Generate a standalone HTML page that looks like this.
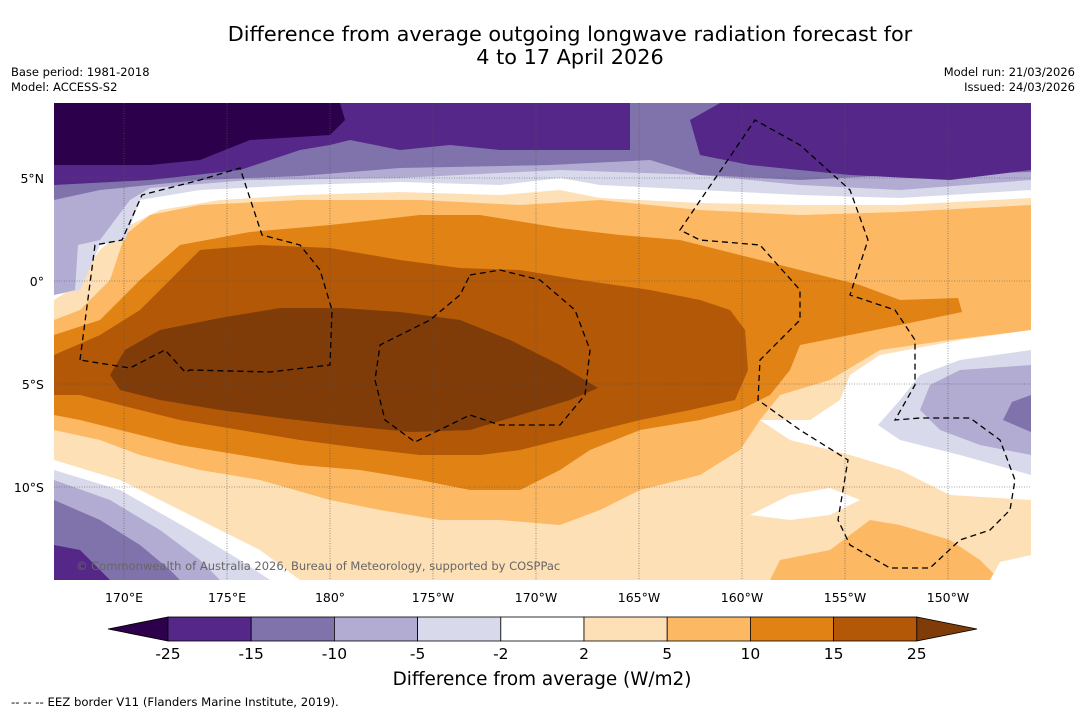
<!DOCTYPE html>
<html><head><meta charset="utf-8">
<style>
body{margin:0;background:#fff;width:1085px;height:713px;overflow:hidden;font-family:"DejaVu Sans",sans-serif;}
svg text{font-family:"DejaVu Sans",sans-serif;}
</style></head>
<body>
<svg id="chart" width="1085" height="713" xmlns="http://www.w3.org/2000/svg">
<text x="570" y="41" font-size="20.8" text-anchor="middle">Difference from average outgoing longwave radiation forecast for</text>
<text x="570" y="64" font-size="20.8" text-anchor="middle">4 to 17 April 2026</text>
<text x="11" y="76" font-size="11.5">Base period: 1981-2018</text>
<text x="11" y="91" font-size="11.5">Model: ACCESS-S2</text>
<text x="1075" y="76" font-size="11.5" text-anchor="end">Model run: 21/03/2026</text>
<text x="1075" y="91" font-size="11.5" text-anchor="end">Issued: 24/03/2026</text>
<defs><clipPath id="mapclip"><rect x="54" y="103" width="977" height="477"/></clipPath></defs>
<g id="map" clip-path="url(#mapclip)">
<rect x="54" y="103" width="977" height="477" fill="#fee0b6"/>
<polygon fill="#fdb863" points="54,320 80,310 110,280 125,235 150,215 200,205 300,200 420,200 520,205 600,200 700,210 800,215 900,212 1031,205 1031,330 950,340 880,350 830,380 780,395 760,420 740,450 700,475 640,490 600,510 560,525 500,520 440,520 380,510 330,500 260,480 200,470 140,455 100,440 54,430"/>
<polygon fill="#e08214" points="54,335 100,320 140,280 180,245 250,232 330,225 420,215 480,215 560,228 620,235 680,240 740,255 800,270 860,285 900,300 958,298 962,312 900,325 850,335 800,345 790,370 770,395 740,410 700,420 640,430 590,450 560,470 520,490 470,490 420,480 360,470 300,465 240,455 180,445 120,430 80,420 54,415"/>
<polygon fill="#b35806" points="54,355 100,335 140,310 180,270 200,250 260,245 330,248 400,260 460,268 520,270 580,280 650,290 700,300 730,310 745,330 748,370 735,400 690,410 640,420 600,430 560,440 520,450 480,455 420,455 360,448 300,440 240,430 180,420 120,405 80,395 54,395"/>
<polygon fill="#7f3b08" points="110,375 125,350 160,330 220,318 280,308 340,308 400,312 460,320 510,340 560,365 598,388 570,400 520,415 470,430 410,432 340,425 280,418 220,410 160,400 120,390"/>
<polygon fill="#fdb863" points="770,580 780,560 830,550 870,520 900,525 950,540 980,560 1000,580"/>
<polygon fill="#ffffff" points="990,580 1000,562 1031,555 1031,580"/>
<polygon fill="#ffffff" points="750,515 790,495 830,488 860,500 830,515 790,520"/>
<polygon fill="#ffffff" points="54,103 1031,103 1031,198 900,205 800,205 700,203 600,198 560,190 500,195 400,192 300,195 220,200 160,210 130,225 100,250 70,290 54,300"/>
<polygon fill="#d8daeb" points="54,103 1031,103 1031,190 900,198 800,195 700,190 600,185 560,178 500,185 400,182 300,185 200,190 140,200 125,240 100,245 80,290 54,295"/>
<polygon fill="#b2abd2" points="54,103 1031,103 1031,180 900,190 800,185 700,175 560,170 400,178 250,180 150,188 130,200 100,240 78,245 75,290 54,295"/>
<polygon fill="#8073ac" points="54,103 1031,103 1031,172 900,175 800,180 700,175 650,160 550,165 400,168 300,176 200,180 100,190 54,200"/>
<polygon fill="#542788" points="54,103 630,103 630,150 500,150 450,145 400,150 350,140 330,145 300,150 270,160 240,170 150,180 54,185"/>
<polygon fill="#542788" points="720,103 1031,103 1031,170 950,180 850,175 750,165 700,155 690,120"/>
<polygon fill="#2d004b" points="54,103 340,103 345,120 330,135 250,140 200,160 150,165 54,165"/>
<polygon fill="#ffffff" points="54,460 120,480 200,520 260,550 300,580 54,580"/>
<polygon fill="#d8daeb" points="54,470 120,490 190,530 240,560 270,580 54,580"/>
<polygon fill="#b2abd2" points="54,480 110,500 160,530 200,560 220,580 54,580"/>
<polygon fill="#8073ac" points="54,500 100,520 140,545 170,570 180,580 54,580"/>
<polygon fill="#542788" points="54,545 80,550 100,570 110,580 54,580"/>
<polygon fill="#ffffff" points="1031,330 960,340 880,355 850,375 840,400 810,420 760,420 790,440 850,455 900,470 950,495 1031,500"/>
<polygon fill="#d8daeb" points="1031,350 960,360 920,375 900,400 878,425 900,440 960,455 1031,475"/>
<polygon fill="#b2abd2" points="1031,365 960,370 930,385 920,410 940,430 980,445 1031,455"/>
<polygon fill="#8073ac" points="1031,395 1012,402 1003,420 1031,432"/>
<g id="grid" stroke="#555" stroke-width="0.6" stroke-dasharray="1,1.5"></g>
<g fill="none" stroke="#000" stroke-width="1.3" stroke-dasharray="6,4">
<path d="M80,360 L95,245 L122,240 L142,195 L200,180 L240,168 L262,235 L300,245 L320,270 L332,310 L330,365 L270,372 L190,370 L185,372 L165,350 L130,368 Z"/>
<path d="M470,275 L500,270 L540,280 L575,310 L590,350 L585,395 L560,425 L500,425 L470,415 L415,442 L385,420 L375,380 L380,345 L430,320 L460,295 Z"/>
<path d="M680,230 L755,120 L800,145 L850,190 L868,240 L850,295 L895,310 L915,340 L915,385 L895,420 L920,418 L970,418 L1000,440 L1015,480 L1010,510 L990,530 L960,540 L930,568 L890,568 L850,545 L838,520 L848,460 L800,430 L758,400 L760,360 L800,320 L800,290 L760,245 L700,240 Z"/>
</g>
<text x="76" y="570" font-size="11.5" fill="#666">© Commonwealth of Australia 2026, Bureau of Meteorology, supported by COSPPac</text>
</g>
<g id="axes"></g>
<g id="cbar"></g>
<text x="542" y="685" font-size="18.4" text-anchor="middle">Difference from average (W/m2)</text>
<text x="11" y="706" font-size="11.7">--  --  -- EEZ border V11 (Flanders Marine Institute, 2019).</text>
</svg>
<script>
const lonLabels=["170°E","175°E","180°","175°W","170°W","165°W","160°W","155°W","150°W"];
const lonValues=[170,175,180,185,190,195,200,205,210];
const latLabels=["5°N","0°","5°S","10°S"];
const latValues=[5,0,-5,-10];
const levelLabels=["-25","-15","-10","-5","-2","2","5","10","15","25"];
const levelColors=["#542788","#8073ac","#b2abd2","#d8daeb","#ffffff","#fee0b6","#fdb863","#e08214","#b35806"];
const NS="http://www.w3.org/2000/svg";
const xLon=v=>124+(v-170)*20.6;
const yLat=v=>281-v*20.6;
function mk(t,a,p){const e=document.createElementNS(NS,t);for(const k in a)e.setAttribute(k,a[k]);p.appendChild(e);return e;}
const grid=document.getElementById('grid'),axes=document.getElementById('axes'),cb=document.getElementById('cbar');
lonValues.forEach((v,i)=>{const x=xLon(v);
 const l=mk('line',{x1:x,x2:x,y1:103,y2:580},grid);
 
 
 const t=mk('text',{x:x,y:602,'font-size':12.5,'text-anchor':'middle'},axes);t.textContent=lonLabels[i];
 
 });
latValues.forEach((v,i)=>{const y=yLat(v);
 const l=mk('line',{x1:54,x2:1031,y1:y,y2:y},grid);
 
 
 const t=mk('text',{x:44,y:y+5,'font-size':12.5,'text-anchor':'end'},axes);t.textContent=latLabels[i];
 
 });
const cx0=168,cw=83.2,cy=617,ch=24;
const lt=mk('polygon',{points:`${cx0},${cy} ${cx0},${cy+ch} 108,${cy+ch/2}`,fill:'#2d004b',stroke:'#000','stroke-width':0.8},cb);


levelColors.forEach((c,i)=>{const r=mk('rect',{x:cx0+i*cw,y:cy,width:cw,height:ch,fill:c,stroke:'#000','stroke-width':0.8},cb);
 
 });
const xe=cx0+levelColors.length*cw;
const rt=mk('polygon',{points:`${xe},${cy} ${xe},${cy+ch} 977,${cy+ch/2}`,fill:'#7f3b08',stroke:'#000','stroke-width':0.8},cb);


levelLabels.forEach((s,i)=>{const t=mk('text',{x:cx0+i*cw,y:659,'font-size':15.5,'text-anchor':'middle'},cb);t.textContent=s;
 
 });
</script>
</body></html>
